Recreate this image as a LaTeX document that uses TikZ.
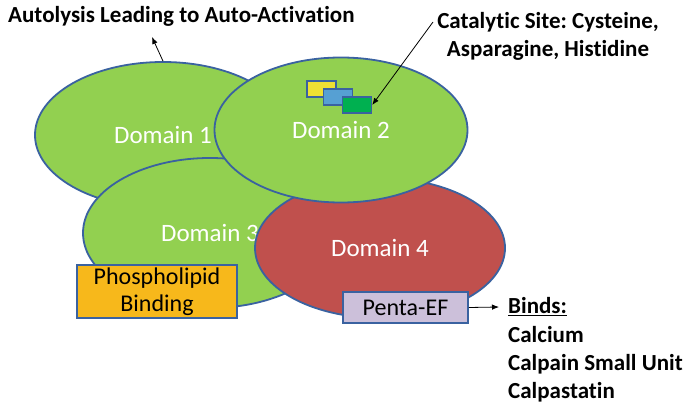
\documentclass[tikz,border=0pt]{standalone}
\usepackage{fontspec}
\setmainfont[Ligatures=NoCommon]{Carlito}
\usetikzlibrary{shapes.geometric,arrows.meta}
\frenchspacing
\definecolor{domgreen}{HTML}{92D050}
\definecolor{domred}{HTML}{C0504D}
\definecolor{edgeblue}{HTML}{3A62A0}
\definecolor{siteyellow}{HTML}{EEE033}
\definecolor{siteblue}{HTML}{56A0D3}
\definecolor{sitegreen}{HTML}{00B050}
\definecolor{boxorange}{HTML}{F7B81B}
\definecolor{boxlav}{HTML}{CCC0DA}
\tikzset{
  domnode/.style={ellipse, draw=edgeblue, line width=1.8pt, inner sep=0pt, text=white,
    font=\fontsize{25}{29}\selectfont},
  siterect/.style={draw=edgeblue, line width=1.4pt, minimum width=29pt, minimum height=16pt, inner sep=0pt},
  labelbox/.style={draw=edgeblue, line width=1.6pt, inner sep=1pt, align=center,
    font=\fontsize{24}{27}\selectfont},
  boldtext/.style={inner sep=0pt, font=\bfseries\fontsize{23}{28}\selectfont},
  arr/.style={-{Latex[length=7pt,width=5.5pt]}, line width=0.8pt},
}
\begin{document}
\begin{tikzpicture}[x=1pt,y=-1pt]
\useasboundingbox (0,0) rectangle (687,406);
\fill[white] (0,0) rectangle (687,406);
% domains
\node[domnode, fill=domgreen, minimum width=256pt, minimum height=146pt] (d1) at (163,135) {\raisebox{-3pt}{Domain 1}};
\node[domnode, fill=domgreen, minimum width=254pt, minimum height=150pt] (d3) at (210,233) {\raisebox{-2pt}{Domain 3}};
\node[domnode, fill=domred, minimum width=250pt, minimum height=140pt] (d4) at (380,248) {\raisebox{-2pt}{Domain 4}};
\node[domnode, fill=domgreen, minimum width=253pt, minimum height=145pt] (d2) at (341,130) {\raisebox{-7pt}{Domain 2}};
% catalytic site rectangles
\node[siterect, fill=siteyellow] (ry) at (321.5,89) {};
\node[siterect, fill=siteblue] (rb) at (338,97) {};
\node[siterect, fill=sitegreen] (rg) at (357,105) {};
% boxes
\node[labelbox, fill=boxorange, minimum width=160pt, minimum height=53pt] (phos) at (157,291.5) {Phospholipid\\Binding};
\node[labelbox, fill=boxlav, minimum width=125pt, minimum height=31pt] (penta) at (405.5,307.5) {Penta-EF};
% texts
\node[boldtext, anchor=west] (auto) at (8,16) {Autolysis Leading to Auto-Activation};
\node[boldtext, align=center] (cat) at (548,36) {Catalytic Site: Cysteine,\\Asparagine, Histidine};
\node[boldtext, anchor=west] (binds) at (508,307) {\underline{Binds:}};
\node[boldtext, anchor=north west, align=left] (list) at (508,326) {Calcium\\Calpain Small Unit\\Calpastatin};
% connectors
\coordinate (autotip) at (152,37);
\coordinate (catstart) at (433,22);
\draw[arr] (d1.north) -- (autotip);
\draw[arr] (catstart) -- (rg.east);
\draw[arr] (penta.east) -- ([xshift=-9pt]binds.west);
\end{tikzpicture}
\end{document}
